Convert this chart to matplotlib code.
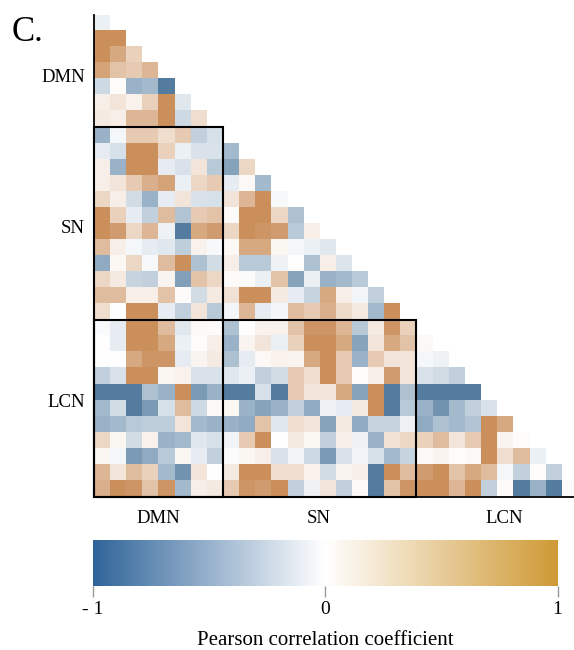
import numpy as np
import matplotlib
matplotlib.use("Agg")
import matplotlib.pyplot as plt
from matplotlib.colors import LinearSegmentedColormap, Normalize
from matplotlib.cm import ScalarMappable
from matplotlib.patches import Rectangle

plt.rcParams['font.family'] = ['Liberation Serif', 'DejaVu Serif']

# networks and number of regions in each
networks = ['DMN', 'SN', 'LCN']
sizes = [8, 12, 11]

# lower triangle (below diagonal) of the correlation matrix, one list per row
dmn_rows = [
    [-0.1],
    [0.85, 0.85],
    [0.85, 0.65, 0.35],
    [0.7, 0.45, 0.4, 0.55],
    [-0.25, 0.02, -0.5, -0.45, -0.85],
    [0.12, 0.2, 0.1, 0.35, 0.85, -0.15],
    [0.15, 0.12, 0.55, 0.55, 0.85, -0.25, 0.25],
]
sn_rows = [
    [-0.5, -0.05, 0.4, 0.4, 0.25, 0.4, -0.3, -0.2],
    [-0.12, -0.2, 0.85, 0.85, 0.35, -0.1, -0.18, -0.18, -0.45],
    [0.12, -0.5, 0.85, 0.85, -0.12, -0.18, 0.2, -0.35, -0.6, 0.3],
    [0.12, 0.2, 0.4, 0.6, 0.7, -0.1, 0.3, 0.4, -0.12, 0.05, -0.45],
    [0.3, 0.12, -0.22, -0.5, -0.12, 0.2, -0.18, -0.2, 0.2, 0.55, 0.85, -0.04],
    [0.85, 0.35, -0.12, -0.3, 0.5, -0.38, 0.4, 0.45, 0.03, 0.85, 0.85, 0.3, -0.4],
    [0.85, 0.75, 0.3, 0.55, -0.08, -0.85, 0.65, 0.75, 0.3, 0.85, 0.8, 0.75, -0.35, 0.12],
    [0.5, 0.12, -0.05, -0.12, -0.15, -0.32, 0.1, -0.04, 0.05, 0.65, 0.65, 0.07, -0.05, -0.1, -0.15],
    [-0.55, 0.06, 0.3, -0.04, 0.5, 0.85, -0.4, -0.22, 0.12, -0.35, -0.35, -0.08, 0.0, -0.4, 0.12, -0.17],
    [0.3, 0.15, -0.28, -0.3, 0.08, -0.62, 0.45, 0.3, 0.03, -0.02, -0.1, 0.45, -0.6, -0.1, -0.5, -0.45, -0.35],
    [0.5, 0.5, 0.12, 0.12, 0.45, 0.03, -0.22, 0.15, 0.22, 0.85, 0.85, 0.15, -0.12, -0.28, 0.65, 0.12, -0.06, -0.3],
    [0.25, 0.0, 0.85, 0.85, -0.12, -0.3, 0.2, -0.35, -0.06, 0.55, -0.12, -0.06, 0.5, 0.4, 0.6, 0.28, 0.15, -0.45, 0.85],
]
lcn_rows = [
    [-0.03, -0.12, 0.85, 0.85, 0.5, -0.15, 0.05, 0.03, -0.4, 0.0, 0.1, 0.1, 0.45, 0.8, 0.8, 0.55, -0.35, 0.15, 0.8, 0.35],
    [0.0, -0.12, 0.85, 0.85, 0.65, -0.1, 0.02, 0.12, -0.5, 0.08, 0.2, -0.1, 0.35, 0.85, 0.85, 0.65, -0.6, 0.2, 0.65, 0.45, 0.05],
    [0.0, 0.0, 0.65, 0.8, 0.8, -0.12, 0.08, 0.15, -0.4, -0.12, 0.05, 0.1, 0.08, 0.65, 0.85, 0.4, -0.5, 0.4, 0.2, 0.2, -0.05, -0.08],
    [-0.3, -0.18, 0.85, 0.85, 0.07, 0.1, -0.18, -0.18, -0.15, -0.1, -0.3, -0.22, 0.4, 0.25, 0.85, 0.4, 0.02, 0.12, 0.75, 0.2, -0.18, -0.22, -0.3],
    [-0.85, -0.85, -0.85, -0.4, -0.5, 0.85, -0.65, -0.5, -0.85, -0.85, -0.2, -0.85, 0.4, 0.2, 0.2, 0.65, -0.6, 0.85, -0.85, -0.4, -0.85, -0.85, -0.85, -0.85],
    [-0.45, -0.22, -0.85, -0.65, -0.2, 0.5, -0.25, 0.05, 0.06, -0.5, -0.6, -0.5, -0.3, -0.55, -0.08, -0.12, 0.15, 0.85, -0.85, -0.35, -0.5, -0.7, -0.45, -0.3, -0.18],
    [-0.5, -0.45, -0.35, -0.32, -0.32, 0.2, -0.45, -0.5, -0.5, -0.55, 0.45, -0.15, 0.25, 0.2, -0.6, 0.15, -0.55, -0.28, -0.28, -0.08, -0.55, -0.4, -0.45, -0.38, 0.85, 0.65],
    [0.3, 0.07, -0.22, 0.1, -0.5, -0.45, -0.15, -0.2, -0.07, 0.4, 0.85, 0.0, 0.15, 0.06, -0.3, 0.12, -0.08, -0.5, 0.22, 0.3, 0.35, 0.5, 0.2, 0.4, 0.85, 0.08, 0.02],
    [0.07, -0.05, -0.65, -0.55, -0.35, 0.07, -0.12, -0.3, -0.02, 0.07, 0.12, -0.18, -0.07, -0.25, -0.65, -0.18, -0.07, -0.2, -0.45, -0.28, 0.05, 0.08, 0.02, 0.05, 0.85, 0.25, 0.5, -0.1],
    [0.55, 0.2, 0.5, 0.35, -0.45, -0.7, 0.2, 0.0, 0.15, 0.85, 0.85, 0.25, 0.25, 0.1, -0.22, 0.08, 0.12, -0.85, 0.85, 0.5, 0.75, 0.85, 0.45, 0.65, 0.5, -0.05, -0.3, 0.02, -0.3],
    [0.6, 0.85, 0.8, 0.45, 0.8, -0.45, 0.12, 0.15, 0.4, 0.8, 0.75, 0.85, -0.3, -0.08, 0.2, -0.3, 0.05, -0.85, 0.45, 0.8, 0.85, 0.85, 0.55, 0.85, -0.3, 0.03, -0.85, -0.5, -0.85, -0.02],
]

rows = dmn_rows + sn_rows + lcn_rows
n = len(rows)
mat = np.full((n, n), np.nan)
for i, r in enumerate(rows):
    mat[i, :len(r)] = r
mat = np.ma.masked_invalid(mat)

cell_cmap = LinearSegmentedColormap.from_list('cells', ['#35668f', '#ffffff', '#c27c40'])
bar_cmap = LinearSegmentedColormap.from_list('bar', ['#2f6499', '#ffffff', '#cf9a36'])

W, H = 574, 650
fig = plt.figure(figsize=(W / 100, H / 100), dpi=100)
ax = fig.add_axes([93.5 / W, 1 - 496.5 / H, 16.125 * n / W, 481.5 / H])
ax.imshow(mat, cmap=cell_cmap, vmin=-1, vmax=1, extent=(0, n, n, 0),
          aspect='auto', interpolation='nearest')
ax.set_xlim(0, n)
ax.set_ylim(n, 0)

for s in ['top', 'right']:
    ax.spines[s].set_visible(False)
for s in ['left', 'bottom']:
    ax.spines[s].set_linewidth(1.3)
    ax.spines[s].set_color('black')

# group boundaries (rows are offset by one since the diagonal is dropped)
edges = np.cumsum([0] + sizes)
xcent = [(edges[k] + edges[k + 1]) / 2 for k in range(3)]
ycent = [3.8, 13.2, 24.0]
ax.set_xticks(xcent, networks)
ax.set_yticks(ycent, networks)
ax.tick_params(axis='both', length=0, labelsize=13.5)
ax.tick_params(axis='x', pad=10)
ax.tick_params(axis='y', pad=6)

# boxes around between-network blocks
ax.add_patch(Rectangle((0, edges[1] - 1), sizes[0], n - edges[1] + 1,
                       fill=False, ec='black', lw=1.5, clip_on=False))
ax.add_patch(Rectangle((0, edges[2] - 1), edges[2], n - edges[2] + 1,
                       fill=False, ec='black', lw=1.5, clip_on=False))

fig.text(12 / W, 1 - 41 / H, 'C.', fontsize=25)

cax = fig.add_axes([92.5 / W, 1 - 586 / H, 465 / W, 46 / H])
cb = fig.colorbar(ScalarMappable(Normalize(-1, 1), bar_cmap), cax=cax,
                  orientation='horizontal', ticks=[-1, 0, 1])
cb.outline.set_visible(False)
cb.set_ticklabels(['- 1', '0', '1'])
cax.tick_params(length=8, color='#999999', width=1, labelsize=14, pad=3)
cb.set_label('Pearson correlation coefficient', fontsize=15, labelpad=9)

fig.savefig('out.png', dpi=100)
